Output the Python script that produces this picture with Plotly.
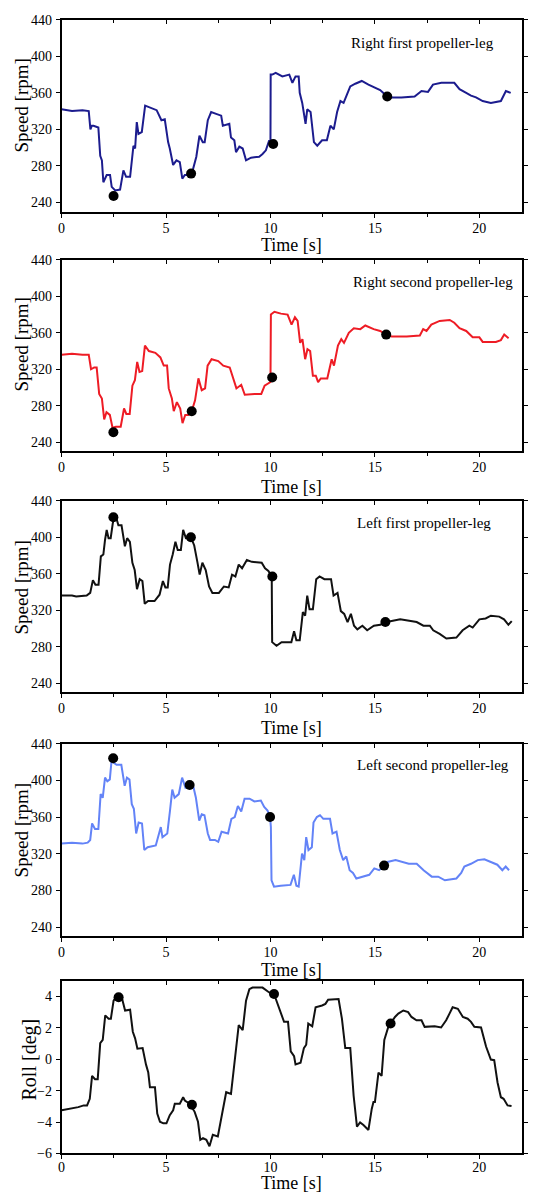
import plotly.graph_objects as go

W, H = 548, 1199

# ---------- data (time [s], value) ----------
right_first = [(0,342),(0.3,341),(0.5,340),(1.0,341),(1.3,340),(1.38,320),(1.45,324),(1.53,324),(1.76,322),(1.85,291),(1.93,286),(2.0,262),(2.16,270),(2.32,270),(2.4,257),(2.57,253),(2.8,254),(2.96,275),(3.09,268),(3.28,268),(3.44,302),(3.52,299),(3.6,328),(3.68,315),(3.84,317),(4.0,346),(4.23,344),(4.55,341),(4.78,330),(4.94,331),(5.1,306),(5.18,299),(5.34,281),(5.5,286),(5.66,284),(5.78,266),(5.9,270),(6.05,270),(6.2,272),(6.3,277),(6.45,290),(6.6,313),(6.76,306),(6.85,306),(7.0,330),(7.16,339),(7.4,337),(7.64,335),(7.72,324),(8.03,326),(8.11,311),(8.27,308),(8.35,295),(8.51,301),(8.67,299),(8.83,286),(9.07,289),(9.46,290),(9.62,293),(9.78,297),(9.94,308),(10.0,306),(10.01,380),(10.09,380),(10.25,382),(10.57,378),(10.9,380),(11.05,371),(11.2,378),(11.35,378),(11.4,360),(11.52,349),(11.68,326),(11.76,342),(11.92,339),(12.08,306),(12.24,302),(12.47,308),(12.7,308),(12.87,324),(13.03,320),(13.19,339),(13.35,351),(13.5,349),(13.66,358),(13.82,367),(14.06,370),(14.37,373),(14.69,369),(15.0,366),(15.25,363),(15.59,356),(15.8,355),(16.27,355),(16.9,356),(17.23,362),(17.54,361),(17.78,369),(18.18,371),(18.8,371),(19.05,364),(19.37,360),(19.6,357),(19.84,355),(20.16,351),(20.55,349),(21.03,351),(21.27,362),(21.5,360)]

right_second = [(0,336),(0.5,337),(1.0,336),(1.3,336),(1.41,320),(1.56,322),(1.68,322),(1.8,293),(1.93,288),(2.04,265),(2.15,273),(2.31,270),(2.44,256),(2.6,257),(2.83,257),(2.99,277),(3.1,271),(3.26,271),(3.39,302),(3.51,308),(3.62,328),(3.73,317),(3.86,318),(3.99,346),(4.18,340),(4.49,338),(4.73,333),(4.89,324),(5.05,324),(5.13,299),(5.28,288),(5.37,274),(5.52,284),(5.68,277),(5.79,261),(5.92,270),(6.08,270),(6.23,274),(6.39,286),(6.55,310),(6.71,297),(6.87,299),(6.99,324),(7.18,331),(7.5,329),(7.74,324),(8.05,322),(8.21,310),(8.37,299),(8.6,303),(8.77,292),(9.24,293),(9.56,293),(9.72,302),(9.87,304),(10.0,306),(10.02,380),(10.19,383),(10.5,381),(10.82,380),(11.01,369),(11.17,377),(11.3,373),(11.42,349),(11.53,353),(11.66,331),(11.77,342),(11.9,340),(12.03,313),(12.17,313),(12.28,306),(12.41,310),(12.72,310),(12.93,331),(13.04,324),(13.23,346),(13.39,353),(13.52,349),(13.75,360),(13.99,365),(14.3,364),(14.54,368),(14.94,364),(15.25,362),(15.54,358),(15.8,356),(16.52,356),(17.15,357),(17.31,364),(17.47,362),(17.7,369),(18.1,373),(18.58,374),(18.8,371),(19.05,365),(19.37,362),(19.68,355),(20.0,355),(20.16,350),(20.79,350),(21.03,352),(21.19,358),(21.4,354)]

left_first = [(0,336),(0.5,336),(0.7,335),(1.2,336),(1.37,339),(1.5,353),(1.62,348),(1.77,348),(1.88,379),(2.0,381),(2.08,397),(2.16,408),(2.25,399),(2.35,399),(2.45,415),(2.56,426),(2.72,413),(2.87,413),(3.03,390),(3.14,399),(3.27,395),(3.39,372),(3.5,364),(3.61,343),(3.74,354),(3.87,352),(3.98,327),(4.14,330),(4.45,330),(4.69,337),(4.85,352),(4.97,345),(5.08,345),(5.19,370),(5.32,381),(5.45,395),(5.56,386),(5.71,386),(5.82,408),(5.95,399),(6.19,400),(6.35,391),(6.5,373),(6.61,359),(6.74,372),(6.9,364),(7.06,346),(7.22,339),(7.53,339),(7.77,346),(8.0,345),(8.16,359),(8.32,357),(8.48,370),(8.64,366),(8.87,375),(9.11,373),(9.58,372),(9.74,366),(9.9,363),(10.06,357),(10.08,285),(10.29,281),(10.53,285),(11.0,285),(11.13,297),(11.24,287),(11.4,287),(11.55,318),(11.66,314),(11.76,336),(11.87,321),(12.03,321),(12.19,354),(12.35,357),(12.58,354),(12.9,354),(13.02,336),(13.21,339),(13.37,319),(13.53,316),(13.69,307),(13.85,316),(14.0,303),(14.16,299),(14.4,303),(14.63,298),(14.95,303),(15.26,304),(15.5,307),(15.74,308),(16.21,310),(17.0,307),(17.32,303),(17.63,303),(17.79,298),(18.1,294),(18.42,289),(18.9,290),(19.2,298),(19.52,303),(19.68,301),(20.0,310),(20.3,311),(20.55,314),(20.95,313),(21.18,310),(21.39,304),(21.55,308)]

left_second = [(0,331),(0.5,332),(1.0,331),(1.25,332),(1.37,335),(1.46,353),(1.6,347),(1.76,347),(1.87,385),(1.97,381),(2.08,403),(2.19,399),(2.31,401),(2.39,421),(2.63,417),(2.86,417),(3.02,394),(3.13,403),(3.25,401),(3.36,374),(3.46,369),(3.57,342),(3.69,354),(3.85,353),(3.96,324),(4.12,327),(4.51,329),(4.75,349),(4.83,338),(5.06,342),(5.19,367),(5.3,390),(5.41,381),(5.61,385),(5.77,403),(5.93,392),(6.13,395),(6.32,392),(6.43,381),(6.59,356),(6.71,363),(6.84,362),(7.0,342),(7.11,335),(7.34,335),(7.5,333),(7.66,344),(7.97,342),(8.13,358),(8.29,360),(8.44,372),(8.6,366),(8.76,380),(9.0,380),(9.23,377),(9.54,378),(9.7,371),(9.86,367),(9.98,360),(10.02,349),(10.05,291),(10.17,284),(10.49,285),(10.96,286),(11.12,297),(11.24,285),(11.35,284),(11.51,320),(11.62,313),(11.71,338),(11.82,324),(11.98,327),(12.06,354),(12.22,360),(12.37,362),(12.53,358),(12.85,358),(12.97,342),(13.16,344),(13.32,324),(13.48,313),(13.63,317),(13.79,302),(13.95,299),(14.11,293),(14.42,295),(14.73,297),(14.97,304),(15.2,302),(15.44,307),(15.6,311),(15.99,313),(16.62,309),(17.0,309),(17.33,302),(17.72,295),(18.03,295),(18.35,291),(18.9,293),(19.13,299),(19.28,306),(19.6,309),(19.92,313),(20.24,314),(20.55,311),(20.86,308),(21.1,302),(21.26,306),(21.42,302)]

roll = [(0,-3.25),(0.43,-3.15),(0.8,-3.05),(1.06,-2.94),(1.22,-2.94),(1.35,-2.52),(1.46,-1.06),(1.6,-1.27),(1.73,-1.27),(1.85,1.02),(1.97,1.23),(2.09,2.79),(2.25,2.58),(2.36,2.58),(2.49,3.73),(2.65,4.04),(2.88,3.94),(3.04,3.1),(3.28,3.15),(3.41,1.75),(3.52,1.33),(3.63,0.67),(3.88,0.71),(4.04,-0.33),(4.15,-0.85),(4.23,-1.79),(4.47,-1.79),(4.58,-3.46),(4.71,-3.98),(4.87,-4.08),(5.02,-4.08),(5.18,-3.56),(5.34,-3.25),(5.42,-2.83),(5.66,-2.83),(5.82,-2.42),(5.9,-2.63),(6.13,-2.83),(6.37,-3.35),(6.53,-3.98),(6.64,-5.13),(6.77,-5.02),(6.93,-5.13),(7.08,-5.54),(7.24,-4.81),(7.48,-4.92),(7.56,-4.4),(7.69,-3.46),(7.8,-2.73),(7.88,-2.1),(8.11,-2.21),(8.27,-0.33),(8.35,0.81),(8.48,2.17),(8.67,1.85),(8.83,3.73),(8.99,4.46),(9.14,4.56),(9.62,4.56),(9.94,4.25),(10.17,4.15),(10.33,3.52),(10.49,2.9),(10.65,2.38),(10.84,2.38),(10.97,0.5),(11.13,0.19),(11.2,-0.33),(11.44,-0.23),(11.6,0.71),(11.71,0.92),(11.81,2.27),(12.0,2.1),(12.16,3.31),(12.47,3.42),(12.63,3.52),(12.76,3.79),(13.26,3.83),(13.42,2.58),(13.58,0.71),(13.82,0.71),(13.98,-2.31),(14.14,-4.29),(14.29,-4.02),(14.45,-4.19),(14.69,-4.5),(14.85,-3.15),(14.93,-2.73),(15.0,-2.73),(15.17,-0.85),(15.32,-1.06),(15.45,1.23),(15.64,2.06),(15.96,2.69),(16.12,2.9),(16.36,3.1),(16.59,3.0),(16.75,2.69),(16.99,2.48),(17.23,2.48),(17.38,2.06),(17.86,2.1),(18.17,2.02),(18.41,2.48),(18.57,2.9),(18.72,3.31),(18.97,3.21),(19.21,2.69),(19.44,2.58),(19.6,2.38),(19.76,2.06),(20.08,2.02),(20.32,0.81),(20.55,-0.02),(20.71,-0.06),(20.87,-1.48),(21.03,-2.42),(21.16,-2.52),(21.35,-2.94),(21.54,-2.98)]

markers_rf = [(2.49,247),(6.2,271.5),(10.13,304),(15.59,356)]
markers_rs = [(2.48,251),(6.23,274),(10.08,311),(15.54,358)]
markers_lf = [(2.48,422),(6.19,400),(10.09,357),(15.5,307)]
markers_ls = [(2.47,424),(6.13,395),(9.98,360),(15.44,307)]
markers_roll = [(2.73,3.94),(6.24,-2.9),(10.17,4.15),(15.75,2.27)]

labels = ["Right first propeller-leg", "Right second propeller-leg",
          "Left first propeller-leg", "Left second propeller-leg", None]
speed_ticks = [240, 280, 320, 360, 400, 440]
roll_ticks = [-6, -4, -2, 0, 2, 4]
x_ticks = [0, 5, 10, 15, 20]
x_minor = [2.5, 7.5, 12.5, 17.5]

# ---------- layout geometry (pixels) ----------
FONT = "Liberation Serif"
plot_left, plot_right = 58, 522
X_RANGE = [0, 22.05]
panels = [
    dict(data=right_first, marks=markers_rf, color="#1c1c8e", top=13, bottom=208, yr=[229, 440], ticks=speed_ticks,
         ytitle="Speed [rpm]", ytc=100, xtc=241, xso=-2, lab=(422, 36)),
    dict(data=right_second, marks=markers_rs, color="#ee1c25", top=256, bottom=450, yr=[230, 440], ticks=speed_ticks,
         ytitle="Speed [rpm]", ytc=342, xtc=486, xso=-2, lab=(432, 278)),
    dict(data=left_first, marks=markers_lf, color="#111111", top=500, bottom=694, yr=[230, 440], ticks=speed_ticks,
         ytitle="Speed [rpm]", ytc=588, xtc=730, xso=-2, lab=(423, 523)),
    dict(data=left_second, marks=markers_ls, color="#6383f7", top=746, bottom=941, yr=[230, 440], ticks=speed_ticks,
         ytitle="Speed [rpm]", ytc=834, xtc=975, xso=-2, lab=(432, 768)),
    dict(data=roll, marks=markers_roll, color="#111111", top=986, bottom=1161, yr=[-6, 5], ticks=roll_ticks,
         ytitle="Roll [deg]", ytc=1066, xtc=None, xso=-4, lab=None),
]

fig = go.Figure()
annotations = []
for i, p in enumerate(panels):
    n = "" if i == 0 else str(i + 1)
    top_n = str(i + 6)
    t = [a for a, b in p["data"]]
    v = [b for a, b in p["data"]]
    fig.add_trace(go.Scatter(x=t, y=v, mode="lines", line=dict(color=p["color"], width=2),
                             xaxis="x" + n, yaxis="y" + n, showlegend=False))
    fig.add_trace(go.Scatter(x=[a for a, b in p["marks"]], y=[b for a, b in p["marks"]], mode="markers",
                             marker=dict(color="black", size=10), xaxis="x" + n, yaxis="y" + n, showlegend=False))
    # empty trace so the top (mirror) axis exists
    fig.add_trace(go.Scatter(x=[None], y=[None], mode="lines", xaxis="x" + top_n, yaxis="y" + n,
                             showlegend=False, hoverinfo="skip"))
    fig.layout["xaxis" + n] = dict(
        domain=[plot_left / W, plot_right / W], anchor="y" + n, range=X_RANGE,
        tickvals=x_ticks, ticks="outside", ticklen=4, tickwidth=1, tickcolor="black",
        minor=dict(tickvals=x_minor, ticks="outside", ticklen=3, tickcolor="black"),
        showline=True, linecolor="black", linewidth=1.5, mirror=True, showgrid=False, zeroline=False,
        tickfont=dict(family=FONT, size=14, color="black"), ticklabelstandoff=p["xso"])
    fig.layout["xaxis" + top_n] = dict(
        overlaying="x" + n, anchor="y" + n, side="top", range=X_RANGE,
        tickvals=x_ticks, ticks="inside", ticklen=4, tickwidth=1, tickcolor="black",
        minor=dict(tickvals=x_minor, ticks="inside", ticklen=3, tickcolor="black"),
        showline=False, showgrid=False, zeroline=False, showticklabels=False)
    fig.layout["yaxis" + n] = dict(
        domain=[1 - p["bottom"] / H, 1 - p["top"] / H], anchor="x" + n, range=p["yr"],
        tickvals=p["ticks"], ticks="outside", ticklen=4, tickwidth=1, tickcolor="black",
        showline=True, linecolor="black", linewidth=1.5, mirror="ticks", showgrid=False, zeroline=False,
        tickfont=dict(family=FONT, size=14, color="black"), ticklabelstandoff=1)
    if p["xtc"] is None:
        annotations.append(dict(text="Time [s]", x=(plot_left + plot_right) / 2 / W, y=0, yshift=-4,
                                xref="paper", yref="paper", showarrow=False, xanchor="center", yanchor="bottom",
                                font=dict(family=FONT, size=18, color="black")))
    else:
        annotations.append(dict(text="Time [s]", x=(plot_left + plot_right) / 2 / W, y=1 - p["xtc"] / H,
                                xref="paper", yref="paper", showarrow=False, xanchor="center", yanchor="middle",
                                font=dict(family=FONT, size=18, color="black")))
    annotations.append(dict(text=p["ytitle"], x=(18 if i < 4 else 26) / W, y=1 - p["ytc"] / H, textangle=-90,
                            xref="paper", yref="paper", showarrow=False, xanchor="center", yanchor="middle",
                            font=dict(family=FONT, size=19 if i < 4 else 20, color="black")))
    if p["lab"]:
        annotations.append(dict(text=labels[i], x=p["lab"][0] / W, y=1 - p["lab"][1] / H,
                                xref="paper", yref="paper", showarrow=False, xanchor="center", yanchor="middle",
                                font=dict(family=FONT, size=15, color="black")))

fig.update_layout(width=W, height=H, margin=dict(l=0, r=0, t=0, b=0),
                  paper_bgcolor="white", plot_bgcolor="white", annotations=annotations)
fig.write_html("out.html")
